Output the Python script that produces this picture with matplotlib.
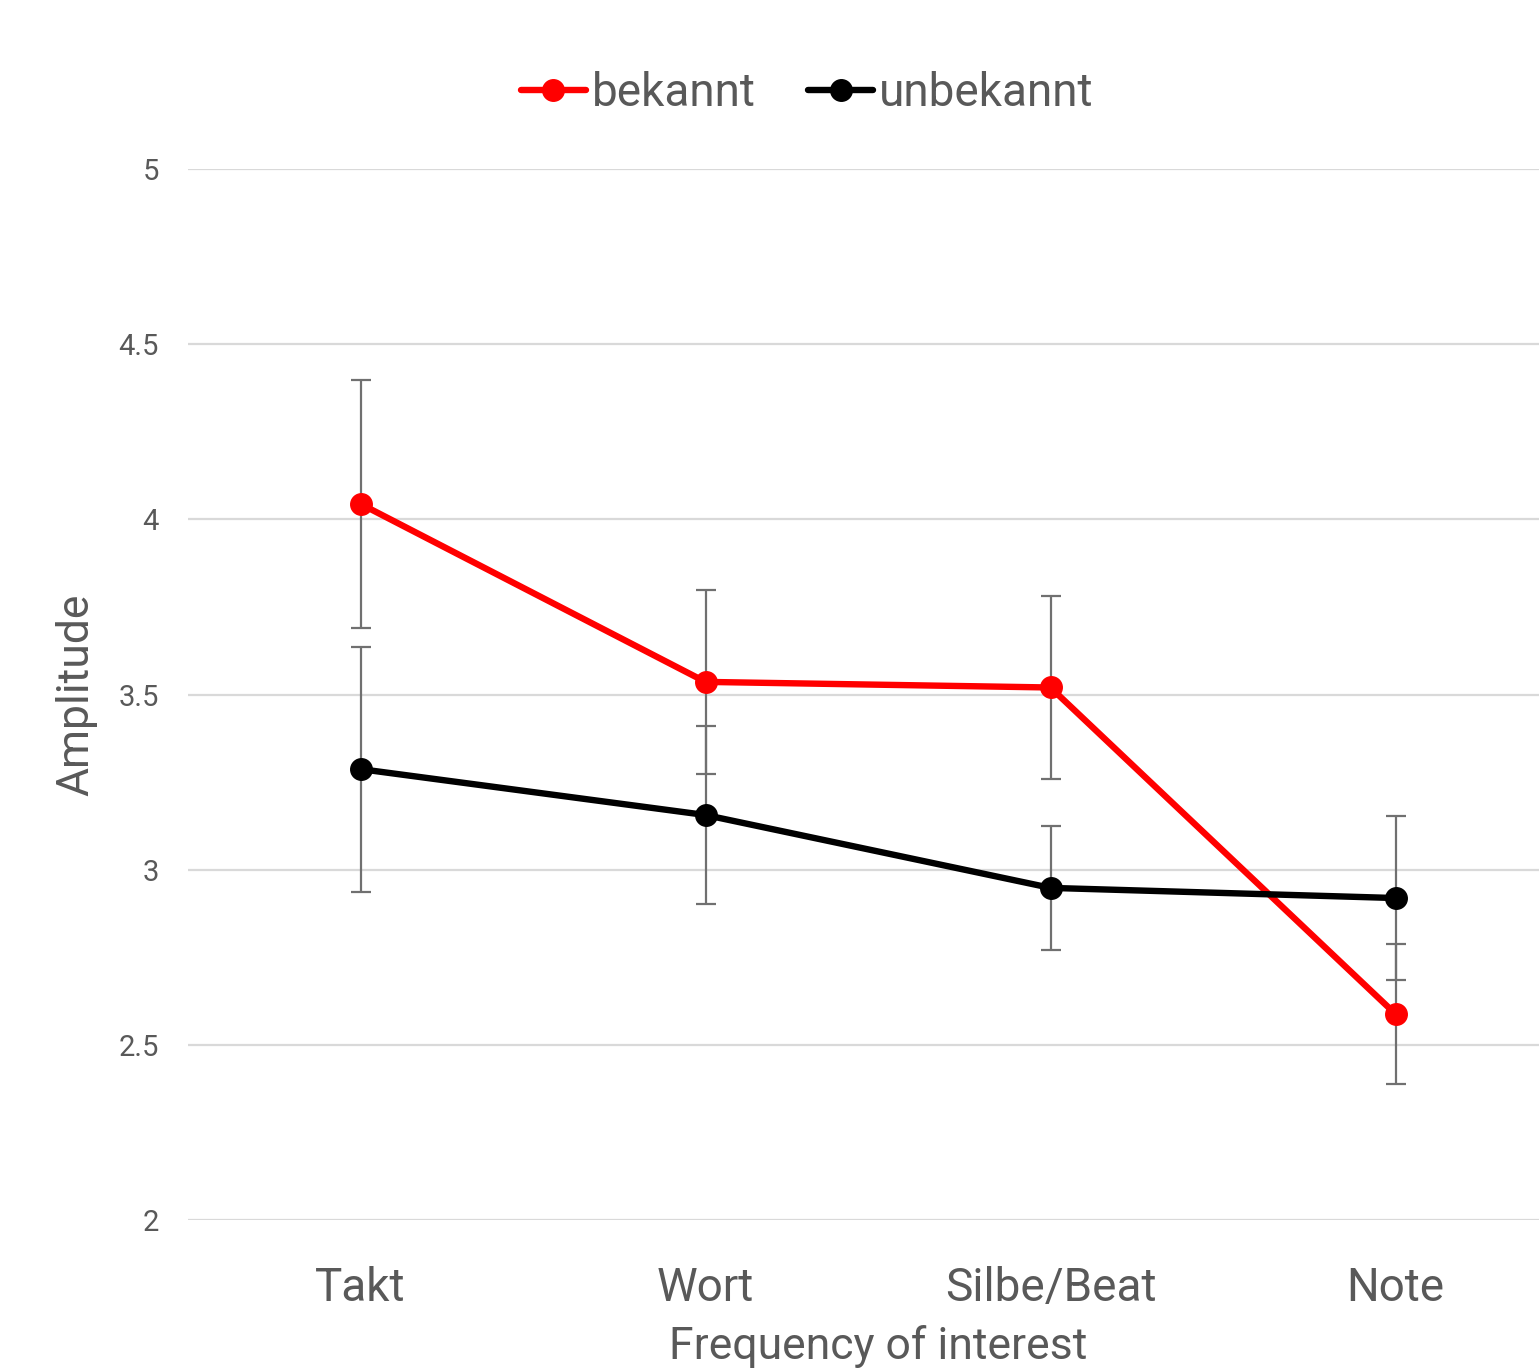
import numpy as np
import matplotlib
matplotlib.use('Agg')
import matplotlib.pyplot as plt

categories = ['Takt', 'Wort', 'Silbe/Beat', 'Note']
bekannt = [4.044, 3.536, 3.520, 2.588]
bekannt_err = [0.354, 0.262, 0.261, 0.200]
unbekannt = [3.287, 3.156, 2.948, 2.919]
unbekannt_err = [0.350, 0.254, 0.178, 0.234]
yticks = [2, 2.5, 3, 3.5, 4, 4.5, 5]
ytick_labels = ['2', '2.5', '3', '3.5', '4', '4.5', '5']

plt.rcParams['font.family'] = ['Roboto', 'DejaVu Sans']
text_col = '#595959'

fig = plt.figure(figsize=(15.39, 13.70), dpi=100)
ax = fig.add_axes([188 / 1539, 150 / 1370, 1380 / 1539, 1051 / 1370])

x = np.arange(len(categories))
for vals, errs, col, lab in [(bekannt, bekannt_err, '#ff0000', 'bekannt'),
                             (unbekannt, unbekannt_err, '#000000', 'unbekannt')]:
    ax.errorbar(x, vals, yerr=errs, fmt='none', ecolor='#707070', elinewidth=1.6,
                capsize=7, capthick=1.6, zorder=2)
    ax.plot(x, vals, color=col, lw=4.6, marker='o', markersize=15.5,
            solid_capstyle='round', label=lab, zorder=3)

ax.set_xlim(-0.5, 3.5)
ax.set_ylim(2, 5)
ax.set_yticks(yticks)
ax.set_yticklabels(ytick_labels)
ax.set_xticks(x)
ax.set_xticklabels(categories)
ax.yaxis.grid(True, color='#d9d9d9', lw=1.6)
ax.set_axisbelow(True)
for s in ax.spines.values():
    s.set_visible(False)
ax.tick_params(axis='y', length=0, pad=21, labelsize=21, labelcolor=text_col)
ax.tick_params(axis='x', length=0, pad=33, labelsize=33, labelcolor=text_col)

ax.set_ylabel('Amplitude', fontsize=32, color=text_col)
ax.yaxis.set_label_coords((97 - 188) / 1380, 0.5)
ax.set_xlabel('Frequency of interest', fontsize=32, color=text_col)
ax.xaxis.set_label_coords((878 - 188) / 1380, -0.1)

fig.legend(loc='center', bbox_to_anchor=(807 / 1539, 1 - 93 / 1370), ncol=2,
           frameon=False, fontsize=33, handlelength=1.42, handletextpad=0.12,
           columnspacing=1.15, labelcolor=text_col)

fig.savefig('out.png', dpi=100)
